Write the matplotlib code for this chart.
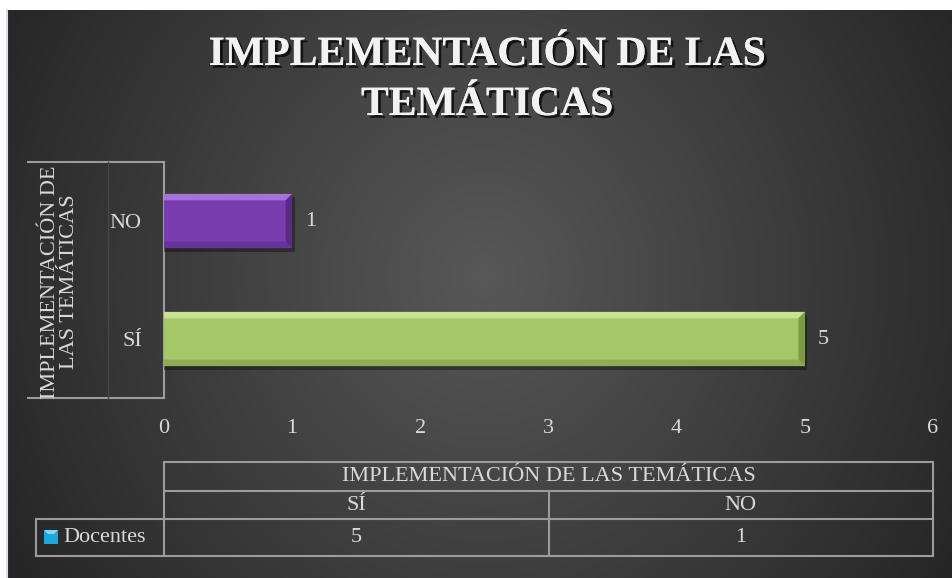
import numpy as np
import matplotlib
matplotlib.use("Agg")
import matplotlib.pyplot as plt
from matplotlib import patheffects
from matplotlib.patches import Polygon, Rectangle

# data
categories = ["SÍ", "NO"]
docentes = [5, 1]
series_name = "Docentes"
axis_title = "IMPLEMENTACIÓN DE LAS TEMÁTICAS"
title_lines = ["IMPLEMENTACIÓN DE LAS", "TEMÁTICAS"]
xticks = [0, 1, 2, 3, 4, 5, 6]

# colours: main, top bevel, right bevel, bottom bevel
bar_styles = [
    ("#a6c768", "#c8e293", "#7d9a45", "#8eac55"),
    ("#7a3db0", "#a772d8", "#572a84", "#66339a"),
]
txt = "#d9d9d9"
line_c = "#9c9c9c"
font = "Liberation Serif"
fs = 16

W, H = 952, 578
fig = plt.figure(figsize=(W / 100, H / 100), dpi=100)
fig.patch.set_facecolor("white")

#########
# background (pixel coords)
#########
bg = fig.add_axes([0, 0, 1, 1])
yy, xx = np.mgrid[0:H, 0:W]
r = np.sqrt(((xx - 480) / 560.0) ** 2 + ((yy - 270) / 600.0) ** 2)
shade = np.clip(0.345 - 0.2 * r, 0.15, 0.345)
bg.imshow(np.dstack([shade] * 3), extent=(8, W, H, 10), aspect="auto")
bg.plot([7, 7], [10, H], color="#d3deee", lw=1.5)
bg.set_xlim(0, W)
bg.set_ylim(H, 0)
bg.axis("off")

#########
# main bar axes
#########
ax_l, ax_r, ax_t, ax_b = 164, 933, 162, 398
ax = fig.add_axes([ax_l / W, 1 - ax_b / H, (ax_r - ax_l) / W, (ax_b - ax_t) / H])
ax.patch.set_alpha(0)
ypos = np.arange(len(categories))
bh = 0.46
ax.barh(ypos, docentes, height=bh, color=[s[0] for s in bar_styles], zorder=2)
ax.set_xlim(0, 6)
ax.set_ylim(-0.5, 1.5)

# bevel edges derived from the bars
bx, by = 0.05, 0.055
for y, v, (c, top, right, bottom) in zip(ypos, docentes, bar_styles):
    y0, y1 = y - bh / 2, y + bh / 2
    ax.add_patch(Rectangle((0, y0 - 0.03), v + 0.02, bh, color="black", alpha=0.35, zorder=1, lw=0))
    ax.add_patch(Polygon([(0, y1), (v, y1), (v - bx, y1 - by), (0, y1 - by)], color=top, zorder=3, lw=0))
    ax.add_patch(Polygon([(0, y0), (v, y0), (v - bx, y0 + by), (0, y0 + by)], color=bottom, zorder=3, lw=0))
    ax.add_patch(Polygon([(v, y1), (v, y0), (v - bx, y0 + by), (v - bx, y1 - by)], color=right, zorder=3, lw=0))
    ax.annotate(str(v), xy=(v, y), xytext=(9, 0), textcoords="offset points",
                ha="left", va="center", color=txt, fontsize=fs, family=font)

ax.set_xticks(xticks)
ax.set_yticks(ypos)
ax.set_yticklabels(categories)
ax.tick_params(axis="x", length=0, pad=15, colors=txt, labelsize=fs)
ax.tick_params(axis="y", length=0, pad=16, colors=txt, labelsize=fs)
for lab in ax.get_xticklabels() + ax.get_yticklabels():
    lab.set_family(font)
for s in ax.spines.values():
    s.set_visible(False)

# axis title box
for xs, ys in [([28, ax_l], [ax_t, ax_t]), ([28, ax_l], [ax_b, ax_b]),
               ([ax_l, ax_l], [ax_t, ax_b])]:
    bg.plot(xs, ys, color=line_c, lw=1.5)
bg.plot([108, 108], [ax_t, ax_b], color="#464646", lw=1)
bg.text(60, (ax_t + ax_b) / 2 + 2, "IMPLEMENTACIÓN DE\nLAS TEMÁTICAS", rotation=90,
        ha="center", va="center", color=txt, fontsize=fs, family=font, linespacing=0.95)

#########
# title
#########
shadow = [patheffects.withSimplePatchShadow(offset=(2, -2), shadow_rgbFace="black", alpha=0.7),
          patheffects.Normal()]
for i, t in enumerate(title_lines):
    bg.text(487, 55 + 50 * i, t, ha="center", va="center", color="#f2f2f2",
            fontsize=30, fontweight="bold", family=font, path_effects=shadow)

#########
# data table
#########
t_left, t_row1, t_row2, t_row3, t_bot = 36, 462, 491, 519, 556
mid = (ax_l + ax_r) / 2
for y, x0 in [(t_row1, ax_l), (t_row2, ax_l), (t_row3, t_left), (t_bot, t_left)]:
    bg.plot([x0, ax_r], [y, y], color=line_c, lw=1.5)
for x, y0 in [(ax_l, t_row1), (ax_r, t_row1), (t_left, t_row3), (mid, t_row2)]:
    bg.plot([x, x], [y0, t_bot], color=line_c, lw=1.5)

bg.text(mid, (t_row1 + t_row2) / 2, axis_title, ha="center", va="center",
        color=txt, fontsize=fs, family=font)
col_w = (ax_r - ax_l) / len(categories)
for i, (cat, v) in enumerate(zip(categories, docentes)):
    cx = ax_l + col_w * (i + 0.5)
    bg.text(cx, (t_row2 + t_row3) / 2, cat, ha="center", va="center",
            color=txt, fontsize=fs, family=font)
    bg.text(cx, (t_row3 + t_bot) / 2, str(v), ha="center", va="center",
            color=txt, fontsize=fs, family=font)

# legend key
bg.add_patch(Rectangle((44, 530), 14, 14, color="#1ea7dc", lw=0))
bg.add_patch(Polygon([(44, 530), (58, 530), (54, 534), (48, 534)], color="#7fd6f5", lw=0))
bg.text(63, (t_row3 + t_bot) / 2, series_name, ha="left", va="center",
        color=txt, fontsize=fs, family=font)

fig.savefig("out.png", dpi=100, facecolor=fig.get_facecolor())
